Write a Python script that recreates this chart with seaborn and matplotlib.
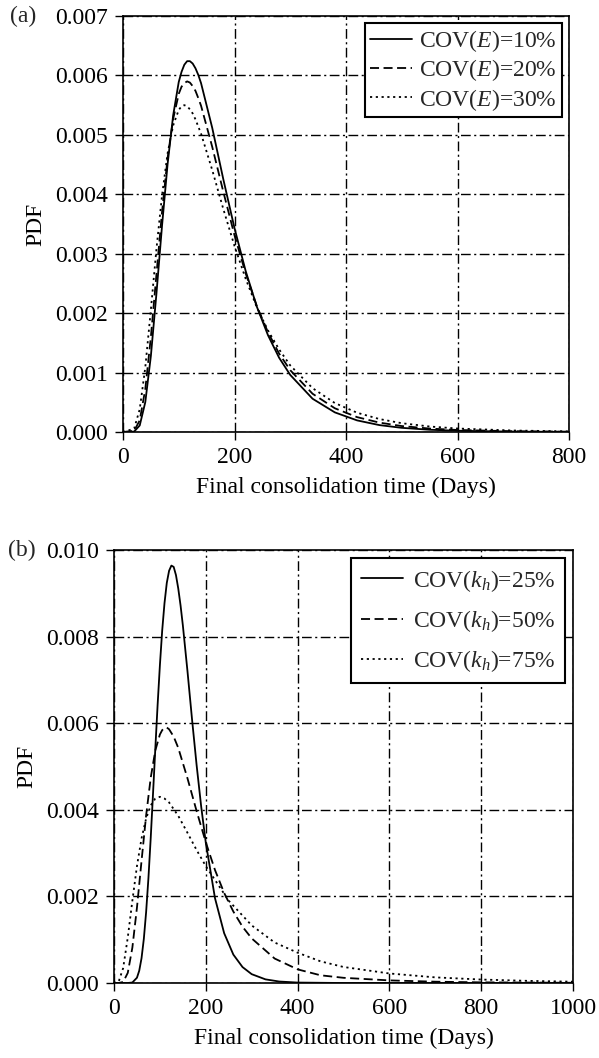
import numpy as np
import pandas as pd
import matplotlib
matplotlib.use("Agg")
import matplotlib.pyplot as plt
import seaborn as sns

# ---------------- data ----------------
# Panel (a): varying COV(E)
xa = [0, 20, 30, 40, 50, 60, 70, 80, 90, 100, 105, 110, 115, 120, 125, 130, 135, 140,
      160, 180, 200, 220, 240, 260, 280, 300, 340, 380, 420, 460, 500, 550, 600, 700, 800]
ya_10 = [0.0, 0.000007, 0.00011, 0.000503, 0.00128, 0.00233, 0.00347, 0.00451, 0.00533,
         0.00589, 0.00606, 0.00618, 0.00624, 0.00624, 0.0062, 0.00612, 0.00601, 0.00587,
         0.00512, 0.00425, 0.00343, 0.00271, 0.00211, 0.00163, 0.00125, 0.00096, 0.00056,
         0.00033, 0.000195, 0.000116, 0.00007, 0.000038, 0.000021, 0.000006, 0.000002]
ya_20 = [0.0, 0.00002, 0.000196, 0.000722, 0.0016, 0.00265, 0.0037, 0.00461, 0.00527,
         0.00569, 0.00581, 0.00587, 0.0059, 0.00588, 0.00582, 0.00574, 0.00562, 0.00549,
         0.0048, 0.00404, 0.00331, 0.00267, 0.00212, 0.00168, 0.00132, 0.00104, 0.000644,
         0.000399, 0.00025, 0.000158, 0.0001, 0.000058, 0.000034, 0.0000126, 0.0000049]
ya_30 = [0.0, 0.000056, 0.000383, 0.00109, 0.00206, 0.00308, 0.00398, 0.00469, 0.00516,
         0.00542, 0.00548, 0.0055, 0.00548, 0.00543, 0.00536, 0.00526, 0.00514, 0.00502,
         0.00441, 0.00375, 0.00313, 0.00258, 0.0021, 0.00171, 0.00139, 0.00112, 0.000738,
         0.000487, 0.000324, 0.000218, 0.000148, 0.0000924, 0.0000587, 0.0000248, 0.000011]

# Panel (b): varying COV(kh)
xb25 = [0, 30, 40, 50, 55, 60, 65, 70, 75, 80, 85, 90, 95, 100, 105, 110, 115, 120, 125,
        130, 135, 140, 145, 150, 160, 170, 180, 190, 200, 220, 240, 260, 280, 300, 330,
        360, 400, 500, 1000]
yb25 = [0.0, 0.0, 0.0000114, 0.000122, 0.000285, 0.000574, 0.00102, 0.00164, 0.00242,
        0.00335, 0.00437, 0.00541, 0.00642, 0.00734, 0.00814, 0.00877, 0.00924, 0.00952,
        0.00964, 0.00961, 0.00942, 0.00911, 0.00872, 0.00826, 0.00721, 0.00609, 0.00503,
        0.00407, 0.00324, 0.00196, 0.00115, 0.000656, 0.000368, 0.000204, 0.000084,
        0.000034, 0.00001, 0.0, 0.0]
xb50 = [0, 10, 20, 30, 40, 50, 60, 70, 80, 90, 100, 105, 110, 115, 120, 130, 140, 160,
        180, 200, 220, 240, 260, 280, 300, 350, 400, 450, 500, 600, 700, 800, 1000]
yb50 = [0.0, 0.0, 0.000024, 0.000234, 0.000816, 0.00174, 0.00282, 0.00387, 0.00474,
        0.00537, 0.00574, 0.00584, 0.00589, 0.0059, 0.00586, 0.00569, 0.00543, 0.00473,
        0.00397, 0.00325, 0.00261, 0.00208, 0.00165, 0.0013, 0.00103, 0.000565, 0.000315,
        0.000178, 0.00012, 0.00006, 0.00003, 0.000015, 0.000005]
xb75 = [0, 10, 20, 30, 40, 50, 60, 70, 80, 90, 100, 110, 120, 140, 160, 180, 200, 250,
        300, 350, 400, 450, 500, 600, 700, 800, 900, 1000]
yb75 = [0.0, 0.000025, 0.000347, 0.00105, 0.0019, 0.0027, 0.00334, 0.0038, 0.0041,
        0.00426, 0.0043, 0.00426, 0.00417, 0.00386, 0.00347, 0.00307, 0.0027, 0.0019,
        0.00133, 0.000935, 0.0007, 0.0005, 0.00037, 0.00022, 0.00013, 0.00008, 0.00005,
        0.00003]

labels_a = ["COV($E$)=10%", "COV($E$)=20%", "COV($E$)=30%"]
labels_b = ["COV($k_h$)=25%", "COV($k_h$)=50%", "COV($k_h$)=75%"]
xticks_a = [0, 200, 400, 600, 800]
yticks_a = [0.000, 0.001, 0.002, 0.003, 0.004, 0.005, 0.006, 0.007]
xticks_b = [0, 200, 400, 600, 800, 1000]
yticks_b = [0.000, 0.002, 0.004, 0.006, 0.008, 0.010]

# ---------------- style ----------------
sns.set_theme(style="white")
plt.rcParams["font.family"] = ["Liberation Serif", "DejaVu Serif"]
plt.rcParams["mathtext.fontset"] = "custom"
plt.rcParams["mathtext.rm"] = "Liberation Serif"
plt.rcParams["mathtext.it"] = "Liberation Serif:italic"
plt.rcParams["mathtext.bf"] = "Liberation Serif:bold"

FS = 17
styles = ["-", (0, (5, 2.5)), (0, (1.2, 2))]

fig = plt.figure(figsize=(5.99, 10.58), dpi=100)
ax_a = fig.add_axes([123 / 599, 1 - 432 / 1058, (569 - 123) / 599, (432 - 16) / 1058])
ax_b = fig.add_axes([114 / 599, 1 - 983 / 1058, (573 - 114) / 599, (983 - 550) / 1058])


def style_axes(ax, xticks, yticks, xmax, ymax):
    ax.set_xlim(0, xmax)
    ax.set_ylim(0, ymax)
    ax.set_xticks(xticks)
    ax.set_yticks(yticks)
    ax.set_yticklabels([f"{v:.3f}" for v in yticks])
    ax.set_xticklabels([str(v) for v in xticks])
    ax.grid(True, color="black", linewidth=1.0, linestyle=(0, (7, 2.5, 1.5, 2.5)))
    ax.tick_params(axis="both", direction="out", length=6, width=1.0, colors="black",
                   labelsize=FS, bottom=True, left=True, pad=5)
    for sp in ax.spines.values():
        sp.set_color("black")
        sp.set_linewidth(1.2)
    ax.set_xlabel("Final consolidation time (Days)", fontsize=FS, color="black", labelpad=6)
    ax.set_ylabel("PDF", fontsize=FS, color="black", labelpad=6)


series_a = [(xa, ya_10), (xa, ya_20), (xa, ya_30)]
for (x, y), lab, ls in zip(series_a, labels_a, styles):
    sns.lineplot(x=x, y=y, ax=ax_a, color="black", linewidth=1.3, linestyle=ls,
                 label=lab, sort=True, estimator=None)
style_axes(ax_a, xticks_a, yticks_a, 800, 0.007)
leg = ax_a.legend(loc="upper right", fontsize=FS, frameon=True, fancybox=False,
                  edgecolor="black", framealpha=1, handlelength=1.8, handletextpad=0.3,
                  borderpad=0.2, labelspacing=0.15, borderaxespad=0.3)
leg.get_frame().set_linewidth(1.5)

series_b = [(xb25, yb25), (xb50, yb50), (xb75, yb75)]
for (x, y), lab, ls in zip(series_b, labels_b, styles):
    sns.lineplot(x=x, y=y, ax=ax_b, color="black", linewidth=1.3, linestyle=ls,
                 label=lab, sort=True, estimator=None)
style_axes(ax_b, xticks_b, yticks_b, 1000, 0.010)
leg = ax_b.legend(loc="upper right", fontsize=FS, frameon=True, fancybox=False,
                  edgecolor="black", framealpha=1, handlelength=1.8, handletextpad=0.4,
                  borderpad=0.4, labelspacing=0.6, borderaxespad=0.35)
leg.get_frame().set_linewidth(1.5)

fig.text(10 / 599, 1 - 16 / 1058, "(a)", fontsize=FS, va="center", ha="left")
fig.text(8 / 599, 1 - 550 / 1058, "(b)", fontsize=FS, va="center", ha="left")

fig.savefig("out.png", dpi=100)
